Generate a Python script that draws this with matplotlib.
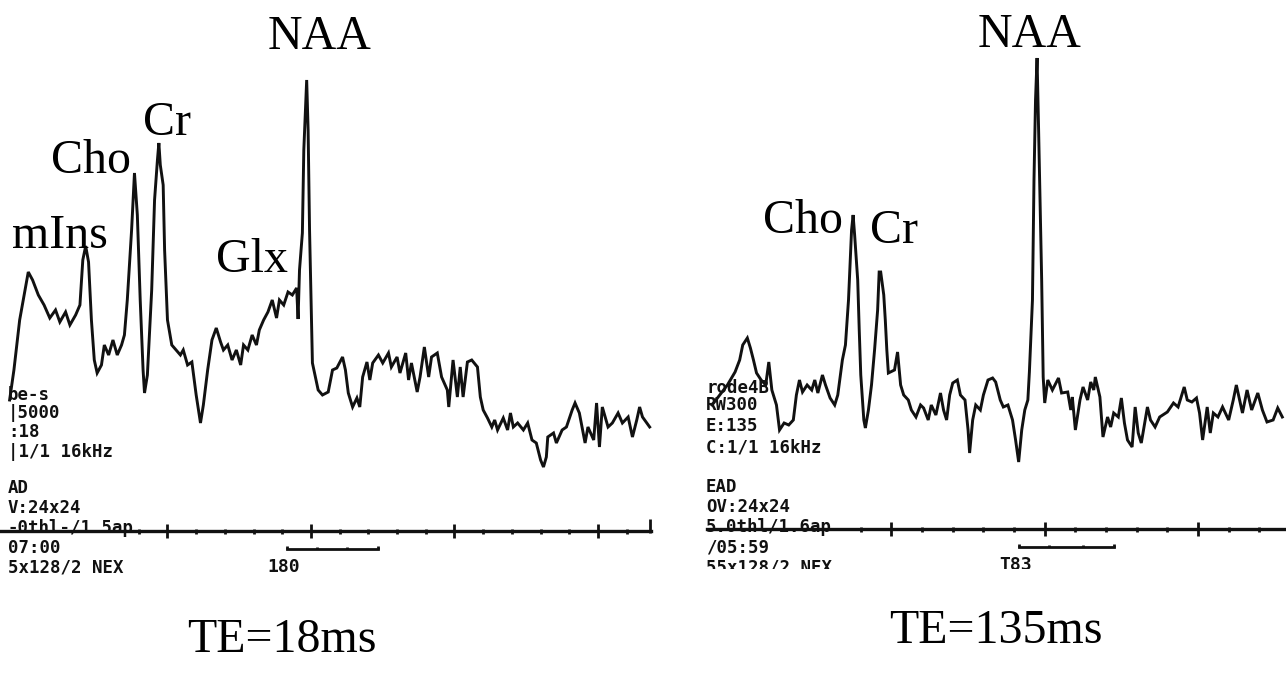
import numpy as np
import matplotlib
matplotlib.use("Agg")
import matplotlib.pyplot as plt
from matplotlib.patches import Rectangle

# ---------------- data: TE = 18 ms spectrum (ppm, a.u.) ----------------
ppm_te18 = [4.10, 4.07, 4.03, 3.97, 3.94, 3.90, 3.86, 3.82, 3.78, 3.75, 3.71, 3.68,
            3.64, 3.61, 3.59, 3.57, 3.55, 3.53, 3.51, 3.49, 3.46, 3.44, 3.41, 3.38,
            3.35, 3.32, 3.30, 3.28, 3.25, 3.23, 3.21, 3.19, 3.17, 3.16, 3.14, 3.11,
            3.09, 3.07, 3.06, 3.05, 3.03, 3.02, 3.00, 2.97, 2.94, 2.91, 2.89, 2.86,
            2.83, 2.80, 2.77, 2.75, 2.72, 2.69, 2.66, 2.63, 2.61, 2.58, 2.55, 2.52,
            2.49, 2.47, 2.44, 2.41, 2.38, 2.36, 2.33, 2.30, 2.27, 2.24, 2.22, 2.19,
            2.16, 2.13, 2.10, 2.09, 2.08, 2.06, 2.05, 2.03, 2.02, 2.01,
            1.99, 1.95, 1.92, 1.88, 1.85, 1.82, 1.78, 1.76, 1.74, 1.71, 1.68, 1.66,
            1.64, 1.61, 1.59, 1.57, 1.53, 1.50, 1.46, 1.44, 1.40, 1.38, 1.34, 1.32,
            1.30, 1.26, 1.24, 1.21, 1.18, 1.16, 1.12, 1.09, 1.05, 1.04, 1.01, 0.98,
            0.96, 0.94, 0.91, 0.88, 0.84, 0.82, 0.80, 0.77, 0.74, 0.72, 0.70, 0.66,
            0.63, 0.61, 0.59, 0.56, 0.52, 0.49, 0.46, 0.43, 0.40, 0.38, 0.36, 0.35,
            0.31, 0.29, 0.25, 0.22, 0.18, 0.16, 0.13, 0.09, 0.07, 0.03, 0.01, -0.01,
            -0.03, -0.07, -0.10, -0.14, -0.17, -0.21, -0.24, -0.27, -0.29, -0.31, -0.36]
int_te18 = [131, 161, 211, 259, 251, 236, 226, 213, 221, 209, 219, 206,
            216, 226, 271, 285, 269, 211, 171, 158, 166, 186, 176, 191,
            176, 186, 196, 231, 301, 358, 316, 231, 161, 138, 156, 241,
            331, 371, 388, 366, 346, 281, 211, 186, 181, 176, 181, 166,
            169, 136, 108, 126, 161, 191, 203, 189, 181, 186, 171, 181,
            166, 186, 181, 196, 186, 201, 211, 219, 231, 213, 231, 226,
            239, 236, 243, 212, 261, 298, 381, 451, 401, 301,
            168, 141, 136, 139, 161, 163, 174, 161, 138, 124, 133, 124,
            154, 169, 151, 168, 176, 168, 178, 164, 174, 158, 178, 151,
            168, 139, 154, 184, 154, 174, 178, 154, 141, 124, 171, 134,
            164, 134, 169, 171, 164, 134, 121, 113, 104, 111, 101, 113,
            101, 118, 104, 108, 101, 108, 91, 88, 71, 64, 74, 94,
            98, 88, 101, 104, 121, 128, 118, 88, 104, 91, 128, 84,
            124, 104, 108, 118, 108, 114, 94, 111, 124, 114, 104]

# ---------------- data: TE = 135 ms spectrum (ppm, a.u.) ----------------
ppm_te135 = [4.17, 4.12, 4.07, 4.02, 3.99, 3.97, 3.94, 3.92, 3.90, 3.88, 3.85, 3.82,
             3.80, 3.78, 3.75, 3.73, 3.70, 3.67, 3.64, 3.62, 3.60, 3.58, 3.55, 3.52,
             3.50, 3.48, 3.45, 3.43, 3.40, 3.37, 3.35, 3.32, 3.30, 3.28, 3.26, 3.25,
             3.24, 3.22, 3.21, 3.20, 3.18, 3.17, 3.15, 3.13, 3.11, 3.09, 3.08, 3.07,
             3.05, 3.04, 3.03, 3.02, 2.98, 2.96, 2.94, 2.92, 2.89, 2.87, 2.84, 2.81,
             2.79, 2.76, 2.74, 2.71, 2.68, 2.66, 2.64, 2.62, 2.60, 2.57, 2.55, 2.52,
             2.50, 2.49, 2.47, 2.45, 2.42, 2.40, 2.37, 2.34, 2.32, 2.29, 2.27, 2.24,
             2.21, 2.19, 2.17, 2.15, 2.13, 2.11, 2.10, 2.08, 2.07, 2.06, 2.05,
             2.04, 2.02, 2.01, 2.00, 1.98, 1.95, 1.91, 1.89, 1.85, 1.83, 1.82, 1.80,
             1.77, 1.75, 1.72, 1.70, 1.68, 1.67, 1.64, 1.62, 1.59, 1.57, 1.55, 1.52,
             1.50, 1.48, 1.46, 1.43, 1.41, 1.39, 1.37, 1.33, 1.31, 1.28, 1.25, 1.20,
             1.16, 1.13, 1.09, 1.07, 1.04, 1.01, 0.99, 0.97, 0.94, 0.92, 0.90, 0.87,
             0.84, 0.80, 0.77, 0.75, 0.71, 0.68, 0.65, 0.61, 0.58, 0.55, 0.51, 0.48,
             0.45]
int_te135 = [124, 134, 144, 157, 169, 184, 191, 181, 169, 156, 149, 144,
             167, 139, 124, 99, 106, 104, 109, 134, 149, 137, 144, 139,
             149, 136, 154, 144, 131, 124, 134, 169, 184, 229, 299, 314,
             294, 249, 199, 154, 109, 101, 119, 144, 179, 219, 257, 257,
             234, 209, 179, 156, 159, 177, 144, 134, 129, 119, 112, 124,
             121, 109, 124, 114, 136, 119, 109, 134, 146, 149, 134, 129,
             99, 76, 109, 124, 119, 134, 149, 151, 147, 129, 122, 124,
             109, 89, 67, 99, 119, 129, 157, 229, 349, 429, 471,
             400, 250, 152, 126, 149, 139, 151, 136, 137, 119, 132, 99,
             129, 142, 129, 147, 139, 152, 132, 92, 112, 102, 116, 112,
             131, 106, 89, 82, 122, 96, 86, 122, 109, 102, 112, 117,
             126, 122, 142, 129, 127, 131, 116, 89, 122, 96, 116, 112,
             122, 109, 129, 144, 116, 139, 119, 136, 119, 107, 109, 121,
             112]

# ---------------- peak labels ----------------
peaks_te18 = ["mIns", "Cho", "Cr", "Glx", "NAA"]
label_ppm_te18 = [3.75, 3.53, 3.00, 2.41, 1.94]
label_int_te18 = [283, 358, 396, 259, 482]
peaks_te135 = ["Cho", "Cr", "NAA"]
label_ppm_te135 = [3.58, 2.98, 2.10]
label_int_te135 = [296, 286, 482]

# ---------------- ppm axis (ruler) ----------------
major_ticks = [3, 2, 1, 0]
axis_extent_te18 = [4.25, -0.37]
axis_extent_te135 = [4.20, 0.40]
ruler_te18 = [2.17, 1.96, 1.75, 1.53]
ruler_te135 = [2.17, 1.97, 1.75, 1.55]

scan_te18 = ["be-s", "|5000", ":18", "|1/1 16kHz", "AD", "V:24x24",
             "-0thl-/1.5ap", "07:00", "5x128/2 NEX"]
scan_te135 = ["rode4B", "RW300", "E:135", "C:1/1 16kHz", "EAD", "OV:24x24",
              "5.0thl/1.6ap", "/05:59", "55x128/2 NEX"]
ruler_label_te18 = "180"
ruler_label_te135 = "T83"
titles = ["TE=18ms", "TE=135ms"]

# ---------------- figure ----------------
W, H = 1286, 675
fig = plt.figure(figsize=(W / 100, H / 100), dpi=100)
fig.patch.set_facecolor("white")

serif = "Liberation Serif"
mono = "DejaVu Sans Mono"
ink = "#111111"

axL = fig.add_axes([0, 0, 660 / W, 1])
axR = fig.add_axes([690 / W, 0, 596 / W, 1])
axL.set_xlim(4.167, -0.432)
axL.set_ylim(-144, 531)
axR.set_xlim(4.314, 0.426)
axR.set_ylim(-146, 529)


def draw_panel(ax, ppm, inten, extent, minor_start, minor_stop, ruler,
               peaks, lx, ly, ruler_label, end_tick):
    ax.axis("off")
    ax.plot(ppm, inten, color=ink, lw=2.1, solid_joinstyle="miter", zorder=3)
    # ppm ruler line
    ax.plot(extent, [0, 0], color=ink, lw=2.4, zorder=2)
    ax.vlines(major_ticks, -7, 7, color=ink, lw=2.0, zorder=2)
    minor = [m for m in np.round(np.arange(minor_start, minor_stop - 0.01, -0.2), 1)
             if abs(m - round(m)) > 0.01]
    ax.vlines(minor, -2.5, 2.5, color=ink, lw=2.0, zorder=2)
    if end_tick is not None:
        ax.vlines([end_tick], -2, 12, color=ink, lw=2.0, zorder=2)
    # scale bar
    y_bar = -18
    ax.plot([ruler[0], ruler[-1]], [y_bar, y_bar], color=ink, lw=2.0)
    ax.vlines([ruler[0], ruler[-1]], y_bar, y_bar + 3, color=ink, lw=2.0)
    ax.vlines(ruler[1:-1], y_bar, y_bar + 2.5, color=ink, lw=2.0)
    ax.text(ruler[0] + 0.02, -36, ruler_label, ha="center", va="center",
            family=mono, fontweight="bold", fontsize=13, color=ink)
    for name, x, y in zip(peaks, lx, ly):
        ax.text(x, y, name, ha="center", va="baseline", family=serif,
                fontsize=34.5, color="black", zorder=4)


draw_panel(axL, ppm_te18, int_te18, axis_extent_te18, 3.2, -0.2, ruler_te18,
           peaks_te18, label_ppm_te18, label_int_te18, ruler_label_te18, -0.36)
draw_panel(axR, ppm_te135, int_te135, axis_extent_te135, 3.2, 0.6, ruler_te135,
           peaks_te135, label_ppm_te135, label_int_te135, ruler_label_te135, None)

# scanner annotation text blocks
rows_L = [395, 413, 432, 452, 488, 508, 528, 548, 568]
rows_R = [388, 405, 426, 448, 487, 507, 527, 548, 567]
for s, py in zip(scan_te18, rows_L):
    fig.text(8 / W, 1 - py / H, s, ha="left", va="center", family=mono,
             fontweight="bold", fontsize=12.5, color=ink, zorder=5)
for s, py in zip(scan_te135, rows_R):
    fig.text(706 / W, 1 - py / H, s, ha="left", va="center", family=mono,
             fontweight="bold", fontsize=12.5, color=ink, zorder=5)

# the right scan is cropped just below its last text line
fig.add_artist(Rectangle((690 / W, 1 - 600 / H), 596 / W, 31 / H,
                         transform=fig.transFigure, facecolor="white",
                         edgecolor="none", zorder=10))

fig.text(282 / W, 1 - 652 / H, titles[0], ha="center", va="baseline",
         family=serif, fontsize=34.5, color="black")
fig.text(996 / W, 1 - 643 / H, titles[1], ha="center", va="baseline",
         family=serif, fontsize=34.5, color="black")

fig.savefig("out.png", dpi=100, facecolor="white")
